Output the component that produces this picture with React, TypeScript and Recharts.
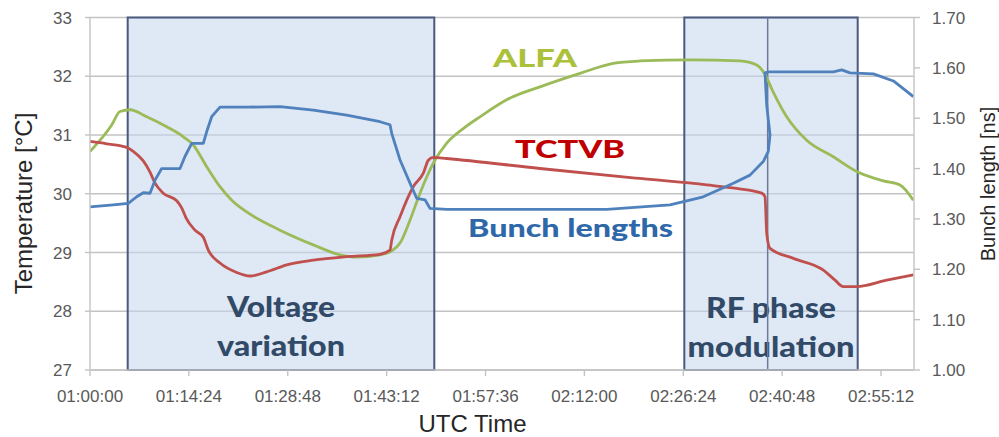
import React from 'react';
import {
  LineChart,
  Line,
  XAxis,
  YAxis,
  CartesianGrid,
  ReferenceArea,
  ReferenceLine,
} from 'recharts';

// Time is kept in minutes after 01:00:00 UTC.
const alfaMinutes = [
  0, 3.16, 4.37, 5.83, 8.26, 11.17, 13.59, 15.04, 17.0, 18.93, 20.64, 22.82,
  27.67, 32.52, 36.41, 38.84, 42.23, 43.94, 45.15, 46.6, 48.06, 50.0, 51.95,
  54.36, 56.8, 60.68, 65.53, 71.36, 76.21, 80.1, 87.38, 94.66, 97.09, 98.3,
  99.5, 101.46, 104.37, 108.25, 111.65, 115.53, 117.96, 119.9,
];
const alfaTemperature = [
  30.72, 31.17, 31.4, 31.43, 31.31, 31.14, 30.97, 30.83, 30.46, 30.12, 29.89,
  29.69, 29.38, 29.13, 28.96, 28.92, 28.96, 29.03, 29.16, 29.55, 30.01, 30.52,
  30.86, 31.11, 31.31, 31.6, 31.82, 32.05, 32.22, 32.26, 32.28, 32.26, 32.19,
  32.03, 31.73, 31.31, 30.91, 30.63, 30.38, 30.22, 30.15, 29.89,
];

const tctvbMinutes = [
  0, 2.43, 5.34, 6.31, 7.76, 8.74, 9.47, 10.67, 12.63, 13.35, 13.98, 15.29,
  16.5, 17.23, 18.93, 21.36, 23.3, 25.73, 28.65, 32.52, 37.38, 42.23, 43.69,
  43.94, 45.15, 47.08, 48.54, 49.27, 50.0, 51.95, 65.53, 80.1, 89.81, 94.17,
  97.82, 98.3, 98.55, 99.03, 102.43, 106.8, 108.5, 109.7, 111.65, 116.02, 119.9,
];
const tctvbTemperature = [
  30.89, 30.85, 30.79, 30.72, 30.56, 30.37, 30.18, 30.01, 29.88, 29.76, 29.59,
  29.38, 29.26, 29.04, 28.82, 28.66, 28.6, 28.67, 28.79, 28.87, 28.93, 28.97,
  29.04, 29.21, 29.61, 30.12, 30.35, 30.57, 30.62, 30.6, 30.43, 30.26, 30.15,
  30.09, 30.01, 29.95, 29.33, 29.07, 28.9, 28.7, 28.53, 28.42, 28.42, 28.53,
  28.62,
];

const bunchMinutes = [
  0, 3.39, 5.58, 6.8, 7.76, 8.74, 9.47, 10.44, 12.13, 13.11, 13.83, 14.81,
  16.5, 16.99, 17.72, 18.93, 22.82, 27.67, 32.52, 37.38, 42.23, 43.69, 43.94,
  45.15, 46.6, 47.58, 48.79, 49.51, 51.95, 65.53, 75.25, 84.47, 89.31, 93.69,
  96.12, 98.05, 98.78, 99.03, 98.55, 98.3, 98.79, 104.37, 108.25, 109.47,
  110.68, 114.08, 117.0, 119.9,
];
const bunchLengthNs = [
  1.324, 1.328, 1.331, 1.344, 1.352, 1.351, 1.377, 1.4, 1.4, 1.4, 1.424, 1.45,
  1.45, 1.473, 1.503, 1.522, 1.522, 1.523, 1.516, 1.506, 1.493, 1.487, 1.47,
  1.417, 1.371, 1.341, 1.338, 1.321, 1.319, 1.319, 1.319, 1.328, 1.344, 1.371,
  1.387, 1.414, 1.434, 1.467, 1.526, 1.59, 1.592, 1.592, 1.592, 1.596, 1.59,
  1.588, 1.574, 1.543,
];

const timeTicks = [0, 14.4, 28.8, 43.2, 57.6, 72, 86.4, 100.8, 115.2];
const temperatureTicks = [27, 28, 29, 30, 31, 32, 33];
const bunchLengthTicks = [1.0, 1.1, 1.2, 1.3, 1.4, 1.5, 1.6, 1.7];

// Shaded windows: start / end minute of each experiment.
const voltageWindow = [5.49, 50.14];
const rfWindow = [86.55, 111.8];
const rfSwitchMinute = 98.69;

const toSeries = (minutes: number[], values: number[]) =>
  minutes.map((t, i) => ({ t, v: values[i] }));

const alfaData = toSeries(alfaMinutes, alfaTemperature);
const tctvbData = toSeries(tctvbMinutes, tctvbTemperature);
const bunchData = toSeries(bunchMinutes, bunchLengthNs);

const pad = (n: number) => String(n).padStart(2, '0');
const formatClock = (minutes: number) => {
  const s = Math.round(minutes * 60) + 3600;
  return `${pad(Math.floor(s / 3600))}:${pad(Math.floor((s % 3600) / 60))}:${pad(s % 60)}`;
};

const tickFont = {
  fontSize: 17,
  fill: '#595959',
  fontFamily: '"Liberation Sans", Arial, sans-serif',
};
const gridGrey = '#c3c3c3';

const captionStyle: React.CSSProperties = {
  fontFamily: 'Lato, "Open Sans", sans-serif',
  fontWeight: 900,
  fontSize: 29,
  fill: '#314a68',
};

const seriesLabelStyle: React.CSSProperties = {
  fontFamily: 'Lato, "Open Sans", sans-serif',
  fontWeight: 900,
  fontSize: 25,
};

// Two-line caption sitting at the bottom of a shaded window.
const makeCaption =
  (lines: { text: string; len: number; rise: number }[]) => (props: any) => {
    const vb = props.viewBox || {};
    const cx = vb.x + vb.width / 2;
    const bottom = vb.y + vb.height;
    return (
      <g>
        {lines.map((l) => (
          <text
            key={l.text}
            x={cx}
            y={bottom - l.rise}
            textAnchor="middle"
            textLength={l.len}
            lengthAdjust="spacingAndGlyphs"
            style={captionStyle}
          >
            {l.text}
          </text>
        ))}
      </g>
    );
  };

const voltageCaption = makeCaption([
  { text: 'Voltage', len: 108, rise: 53 },
  { text: 'variation', len: 128, rise: 14 },
]);
const rfCaption = makeCaption([
  { text: 'RF phase', len: 130, rise: 52 },
  { text: 'modulation', len: 167, rise: 13 },
]);

export default function App() {
  return (
    <div
      style={{
        position: 'absolute',
        left: 0,
        top: 0,
        width: 999,
        height: 437,
        background: '#ffffff',
      }}
    >
      <LineChart
        width={999}
        height={437}
        margin={{ top: 17.5, right: 0, bottom: 0, left: 0 }}
      >
        <CartesianGrid
          yAxisId="left"
          vertical={false}
          stroke={gridGrey}
          strokeWidth={1.4}
        />
        <XAxis
          type="number"
          dataKey="t"
          domain={[0, 120]}
          ticks={timeTicks}
          tickFormatter={formatClock}
          allowDataOverflow
          height={67}
          tick={tickFont}
          tickSize={6}
          tickMargin={14}
          axisLine={{ stroke: gridGrey, strokeWidth: 1.4 }}
          tickLine={{ stroke: gridGrey, strokeWidth: 1.4 }}
        />
        <YAxis
          yAxisId="left"
          domain={[27, 33]}
          ticks={temperatureTicks}
          width={90}
          tick={tickFont}
          tickSize={5}
          tickMargin={13}
          axisLine={{ stroke: gridGrey, strokeWidth: 1.4 }}
          tickLine={{ stroke: gridGrey, strokeWidth: 1.4 }}
        />
        <YAxis
          yAxisId="right"
          orientation="right"
          domain={[1, 1.7]}
          ticks={bunchLengthTicks}
          tickFormatter={(v: number) => v.toFixed(2)}
          width={85}
          tick={tickFont}
          tickSize={6}
          tickMargin={12}
          axisLine={{ stroke: gridGrey, strokeWidth: 1.4 }}
          tickLine={{ stroke: gridGrey, strokeWidth: 1.4 }}
        />
        <ReferenceArea
          yAxisId="left"
          x1={voltageWindow[0]}
          x2={voltageWindow[1]}
          fill="#c5d5ec"
          fillOpacity={0.55}
          stroke="#4a5a7f"
          strokeWidth={2}
          label={voltageCaption}
        />
        <ReferenceArea
          yAxisId="left"
          x1={rfWindow[0]}
          x2={rfWindow[1]}
          fill="#c5d5ec"
          fillOpacity={0.55}
          stroke="#4a5a7f"
          strokeWidth={2}
          label={rfCaption}
        />
        <ReferenceLine
          yAxisId="left"
          x={rfSwitchMinute}
          stroke="#6a7a9c"
          strokeWidth={1.5}
        />
        <Line
          data={alfaData}
          dataKey="v"
          yAxisId="left"
          type="monotone"
          stroke="#9bbb59"
          strokeWidth={2.8}
          dot={false}
          isAnimationActive={false}
        />
        <Line
          data={tctvbData}
          dataKey="v"
          yAxisId="left"
          type="monotone"
          stroke="#c0504d"
          strokeWidth={2.8}
          dot={false}
          isAnimationActive={false}
        />
        <Line
          data={bunchData}
          dataKey="v"
          yAxisId="right"
          type="linear"
          stroke="#4f81bd"
          strokeWidth={2.8}
          strokeLinejoin="round"
          dot={false}
          isAnimationActive={false}
        />
      </LineChart>
      <svg
        width={999}
        height={437}
        style={{ position: 'absolute', left: 0, top: 0, pointerEvents: 'none' }}
      >
        <text
          x={32}
          y={203.5}
          transform="rotate(-90 32 203.5)"
          textAnchor="middle"
          style={{ fontFamily: '"Liberation Sans", Arial, sans-serif', fontSize: 24, fill: '#262626' }}
        >
          Temperature [°C]
        </text>
        <text
          x={994.5}
          y={184}
          transform="rotate(-90 994.5 184)"
          textAnchor="middle"
          style={{ fontFamily: '"Liberation Sans", Arial, sans-serif', fontSize: 20, fill: '#262626' }}
        >
          Bunch length [ns]
        </text>
        <text
          x={472.5}
          y={432}
          textAnchor="middle"
          style={{ fontFamily: '"Liberation Sans", Arial, sans-serif', fontSize: 24, fill: '#262626' }}
        >
          UTC Time
        </text>
        <text x={493} y={66.7} textLength={84} lengthAdjust="spacingAndGlyphs" style={{ ...seriesLabelStyle, fill: '#abc13a' }}>
          ALFA
        </text>
        <text x={515} y={158.3} textLength={110} lengthAdjust="spacingAndGlyphs" style={{ ...seriesLabelStyle, fill: '#c00000' }}>
          TCTVB
        </text>
        <text x={468} y={236.7} textLength={205} lengthAdjust="spacingAndGlyphs" style={{ ...seriesLabelStyle, fill: '#2f68a8' }}>
          Bunch lengths
        </text>
      </svg>
    </div>
  );
}
